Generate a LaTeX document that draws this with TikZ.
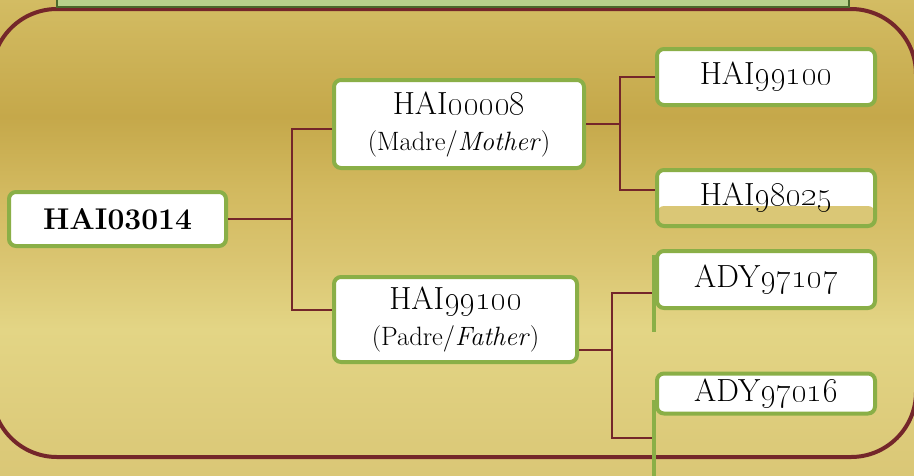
\documentclass[tikz,border=0pt]{standalone}
\usepackage{tikz}
\usepackage[dvipsnames]{xcolor}

\definecolor{goldtop}{HTML}{D3BC63}
\definecolor{golddark}{HTML}{C5A84A}
\definecolor{goldmid}{HTML}{D2B95F}
\definecolor{goldsoft}{HTML}{DAC571}
\definecolor{goldlight}{HTML}{E3D585}
\definecolor{goldlow}{HTML}{DAC776}
\definecolor{wine}{HTML}{74262A}
\definecolor{leafgreen}{HTML}{8AAF47}
\definecolor{palegreen}{HTML}{B8D28B}
\definecolor{darkleaf}{HTML}{4B6A2B}
\pgfdeclareverticalshading{goldbg}{100bp}{color(0bp)=(goldlow); color(25bp)=(goldlow); color(40.3bp)=(goldlight); color(47.6bp)=(goldsoft); color(55bp)=(goldmid); color(62.7bp)=(golddark); color(75bp)=(goldtop); color(100bp)=(goldtop)}

\tikzset{
  person/.style={draw=leafgreen, line width=4pt, fill=white, rounded corners=7pt,
    inner sep=0pt, minimum width=218pt, minimum height=56pt, align=center,
    font=\fontsize{32}{36}\selectfont},
  link/.style={draw=wine, line width=1.6pt},
  stub/.style={draw=leafgreen, line width=4pt},
}
\newcommand{\subline}[1]{{\fontsize{26.5}{36}\selectfont #1}}
\newcommand{\osnum}[1]{\scalebox{1.15}{\oldstylenums{#1}}}

\begin{document}
\begin{tikzpicture}[x=1pt,y=-1pt]
    \useasboundingbox (0,0) rectangle (914,475);
    \shade[shading=goldbg] (0,0) rectangle (914,475);
    \draw[wine, line width=4pt, rounded corners=65pt] (-8,9) rectangle (916,457);
    \draw[darkleaf, fill=palegreen, line width=2.5pt] (57,-10) rectangle (849,7);
    \node[person, minimum width=217pt, minimum height=54pt, font=\fontsize{30}{36}\selectfont\bfseries] (child) at (117.5,219) {HAI03014};
    \node[person, minimum width=250pt, minimum height=88pt] (mom) at (459,124) {HAI\osnum{00008}\\\subline{(Madre/\textit{Mother})}};
    \node[person, minimum width=243pt, minimum height=85pt] (dad) at (455.5,319.5) {HAI\osnum{99100}\\\subline{(Padre/\textit{Father})}};
    \node[person] (momA) at (766,77) {HAI\osnum{99100}};
    \node[person, path picture={\fill[goldlow] ([yshift=20pt]path picture bounding box.south west) rectangle (path picture bounding box.south east);}] (momB) at (766,198) {HAI\osnum{98025}};
    \node[person, minimum height=57pt] (dadA) at (766,279.5) {ADY\osnum{97107}};
    \node[person, minimum height=40pt] (dadB) at (766,393.5) {ADY\osnum{97016}};
    \coordinate (tail) at (652,438);
    \draw[link] (child.east) -- ++(64,0) coordinate (j1);
    \draw[link] ([yshift=-5pt]mom.west) -| (j1) |- ([yshift=9.5pt]dad.west);
    \draw[link] (mom.east) -- ++(34,0) coordinate (j2);
    \draw[link] (momA.west) -| (j2) |- ([yshift=8pt]momB.west);
    \draw[link] ([yshift=-30.5pt]dad.east) -- ++(33,0) coordinate (j3);
    \draw[link] ([yshift=-13.5pt]dadA.west) -| (j3) |- (tail);
    \draw[stub] (654,255) -- (654,332);
    \draw[stub] (654,400) -- (654,476);
\end{tikzpicture}
\end{document}
